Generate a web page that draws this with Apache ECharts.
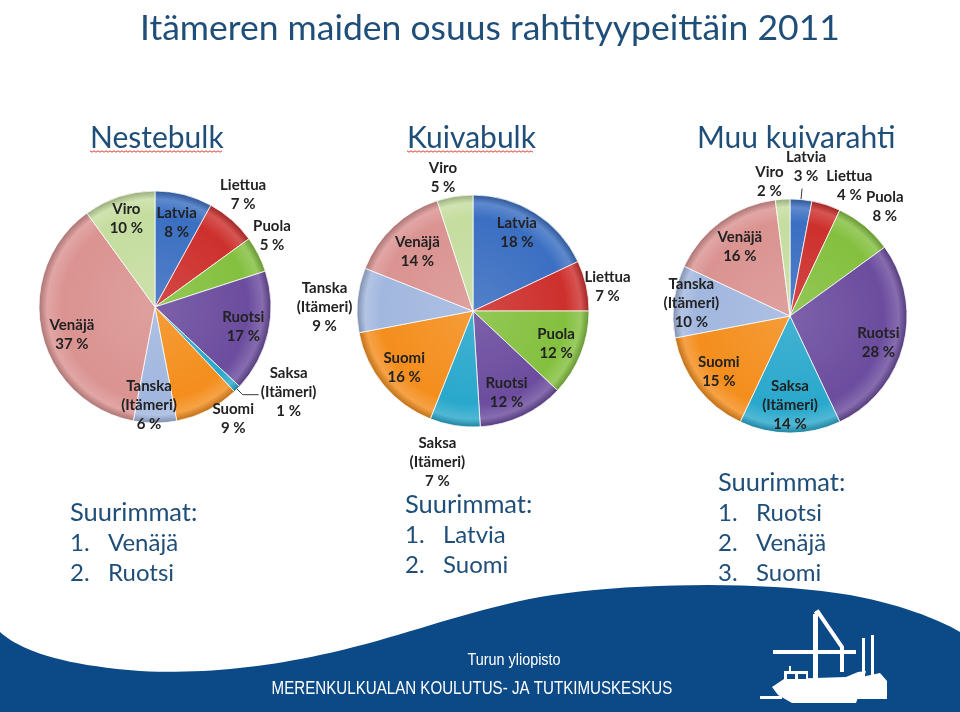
<!DOCTYPE html>
<html><head><meta charset="utf-8">
<script src="https://cdn.jsdelivr.net/npm/echarts@6/dist/echarts.min.js"></script>
<style>html,body{margin:0;padding:0;background:#fff}#c{width:960px;height:712px}</style>
</head><body><div id="c"></div>
<script>
// ---------- DATA ----------
const categories = ['Latvia','Liettua','Puola','Ruotsi','Saksa (Itämeri)','Suomi','Tanska (Itämeri)','Venäjä','Viro'];
const nestebulk = [8, 7, 5, 17, 1, 9, 6, 37, 10];
const kuivabulk = [18, 7, 12, 12, 7, 16, 9, 14, 5];
const muuKuivarahti = [3, 4, 8, 28, 14, 15, 10, 16, 2];
const mainTitle = 'Itämeren maiden osuus rahtityypeittäin 2011';
const chartTitles = ['Nestebulk', 'Kuivabulk', 'Muu kuivarahti'];
const listHeading = 'Suurimmat:';
const largestNestebulk = ['Venäjä', 'Ruotsi'];
const largestKuivabulk = ['Latvia', 'Suomi'];
const largestMuu = ['Ruotsi', 'Venäjä', 'Suomi'];
const footerTop = 'Turun yliopisto';
const footerBottom = 'MERENKULKUALAN KOULUTUS- JA TUTKIMUSKESKUS';

// ---------- STYLE / LAYOUT ----------
const sliceColors = ['#3b6fc2','#cd302d','#84c03f','#6b4c9e','#29a8cc','#f48e1d','#a2b7df','#da9391','#c5dd9f'];
const titleColor = '#1f4e79';
const labelFont = 'Lato, "Open Sans", sans-serif';
const datasets = [nestebulk, kuivabulk, muuKuivarahti];
const lists = [largestNestebulk, largestKuivabulk, largestMuu];
const pieLayout = [
  { center: [155, 307], r: 116,
    ring: {'Latvia':.75,'Liettua':1.24,'Puola':1.18,'Ruotsi':.78,'Saksa (Itämeri)':1.3,'Suomi':1.2,'Tanska (Itämeri)':.85,'Venäjä':.76,'Viro':.8},
    nudge: {'Liettua':[-7,-4],'Puola':[-5,-9],'Saksa (Itämeri)':[27,-21],'Suomi':[15,-12],'Tanska (Itämeri)':[-6,0],'Venäjä':[3,8]},
    leader: {'Saksa (Itämeri)':[8,16]} },
  { center: [473, 311], r: 116,
    ring: {'Latvia':.77,'Liettua':1.18,'Puola':.77,'Ruotsi':.76,'Saksa (Itämeri)':1.3,'Suomi':.77,'Tanska (Itämeri)':1.26,'Venäjä':.7,'Viro':1.16},
    nudge: {'Latvia':[-4,-3],'Liettua':[1,6],'Ruotsi':[-4,2],'Saksa (Itämeri)':[-12,2],'Tanska (Itämeri)':[-3,10],'Viro':[-9,0]},
    leader: {} },
  { center: [790, 316], r: 117,
    ring: {'Latvia':1.28,'Liettua':1.2,'Puola':1.23,'Ruotsi':.78,'Saksa (Itämeri)':.76,'Suomi':.77,'Tanska (Itämeri)':.85,'Venäjä':.73,'Viro':1.17},
    nudge: {'Latvia':[2,0],'Liettua':[16,3],'Puola':[3,2],'Ruotsi':[0,4],'Viro':[-12,2]},
    leader: {'Latvia':[11,0]} }
];
const titlePos = [[90,138],[407,138],[697,138]];
const listPos = [[70,513],[405,505],[718,483]];

function shade(hex, amt) {
  const n = parseInt(hex.slice(1), 16);
  let r = n >> 16, g = (n >> 8) & 255, b = n & 255;
  const f = c => Math.max(0, Math.min(255, Math.round(amt >= 0 ? c + (255 - c) * amt : c * (1 + amt))));
  return 'rgb(' + f(r) + ',' + f(g) + ',' + f(b) + ')';
}
function sliceFill(color, P) {
  return { type: 'radial', x: P.center[0], y: P.center[1], r: P.r, global: true,
    colorStops: [
      { offset: 0, color: shade(color, 0.12) },
      { offset: 0.8, color: color },
      { offset: 0.93, color: shade(color, 0.18) },
      { offset: 1, color: shade(color, -0.22) } ] };
}
const labelText = p => p.name.replace(' (', '\n(') + '\n' + p.value + ' %';

const series = [];
pieLayout.forEach((P, pi) => {
  const vals = datasets[pi];
  series.push({
    type: 'pie', center: P.center, radius: P.r, startAngle: 90, clockwise: true, silent: true,
    avoidLabelOverlap: false, animation: false,
    itemStyle: { borderColor: 'rgba(255,255,255,0.75)', borderWidth: 1 },
    label: { show: false }, labelLine: { show: false },
    data: categories.map((c, i) => {
      const item = { name: c, value: vals[i], itemStyle: { color: sliceFill(sliceColors[i], P) } };
      if (P.leader[c]) {
        item.label = { show: true, position: 'outside', formatter: ' ', fontSize: 4 };
        item.labelLine = { show: true, length: P.leader[c][0], length2: P.leader[c][1], smooth: false,
          lineStyle: { color: '#3a3a3a', width: 1 } };
      }
      return item;
    })
  });
  const factors = [...new Set(Object.values(P.ring))];
  factors.forEach(f => {
    series.push({
      type: 'pie', center: P.center, radius: 2 * (f * P.r - 3), startAngle: 90, clockwise: true,
      silent: true, animation: false, avoidLabelOverlap: false,
      itemStyle: { color: 'rgba(0,0,0,0)', borderWidth: 0 },
      labelLine: { show: false },
      label: { show: true, position: 'inside', formatter: labelText, color: '#222',
        fontFamily: labelFont, fontWeight: 'bold', fontSize: 15, lineHeight: 19 },
      labelLayout: params => {
        const n = P.nudge[categories[params.dataIndex]];
        return n ? { dx: n[0], dy: n[1] } : {};
      },
      data: categories.map((c, i) => ({ name: c, value: vals[i], label: { show: P.ring[c] === f } }))
    });
  });
});

// ---------- GRAPHICS ----------
function bezierPoints(start, segs) {
  const pts = [start];
  let p0 = start;
  segs.forEach(([c1, c2, p3]) => {
    for (let t = 0.05; t <= 1.0001; t += 0.05) {
      const u = 1 - t;
      pts.push([
        u*u*u*p0[0] + 3*u*u*t*c1[0] + 3*u*t*t*c2[0] + t*t*t*p3[0],
        u*u*u*p0[1] + 3*u*u*t*c1[1] + 3*u*t*t*c2[1] + t*t*t*p3[1]
      ]);
    }
    p0 = p3;
  });
  return pts;
}
const wave = bezierPoints([0, 632], [
  [[20,650],[60,665],[140,671]],
  [[200,674],[260,668],[320,655]],
  [[400,638],[460,612],[540,597]],
  [[620,583],[760,580],[850,595]],
  [[900,604],[940,620],[960,632]]
]).concat([[960,712],[0,712]]);

const graphic = [];
graphic.push({ type: 'polygon', silent: true, z: 0, shape: { points: wave }, style: { fill: '#0b4a87' } });
graphic.push({ type: 'text', silent: true, style: { text: mainTitle, x: 140, y: 29, fill: titleColor,
  font: '35.5px Lato, "Open Sans", sans-serif', verticalAlign: 'middle', align: 'left' } });
chartTitles.forEach((t, i) => {
  graphic.push({ type: 'text', silent: true, style: { text: t, x: titlePos[i][0], y: titlePos[i][1], fill: titleColor,
    font: '30px Lato, "Open Sans", sans-serif', verticalAlign: 'middle', align: 'left' } });
});
[[90, 222], [407, 533]].forEach(([x0, x1]) => {
  const pts = [];
  for (let x = x0, k = 0; x <= x1; x += 2, k++) pts.push([x, 151 + (k % 2 ? 1.2 : -0.2)]);
  graphic.push({ type: 'polyline', silent: true, shape: { points: pts }, style: { stroke: '#e0403a', lineWidth: 1, fill: null } });
});
lists.forEach((arr, i) => {
  const [x, y] = listPos[i];
  graphic.push({ type: 'text', silent: true, style: { text: listHeading, x: x, y: y, fill: titleColor,
    font: '25.5px Lato, "Open Sans", sans-serif', verticalAlign: 'middle' } });
  arr.forEach((name, j) => {
    graphic.push({ type: 'text', silent: true, style: { text: (j + 1) + '.', x: x, y: y + 30 * (j + 1), fill: titleColor,
      font: '24px Lato, "Open Sans", sans-serif', verticalAlign: 'middle' } });
    graphic.push({ type: 'text', silent: true, style: { text: name, x: x + 38, y: y + 30 * (j + 1), fill: titleColor,
      font: '24px Lato, "Open Sans", sans-serif', verticalAlign: 'middle' } });
  });
});
graphic.push({ type: 'text', silent: true, x: 514, y: 661, scaleX: 0.9, style: { text: footerTop, x: 0, y: 0, fill: '#fff',
  font: '16px "Liberation Sans", Arial, sans-serif', align: 'center', verticalAlign: 'middle' } });
graphic.push({ type: 'text', silent: true, x: 472, y: 689, scaleX: 0.84, style: { text: footerBottom, x: 0, y: 0, fill: '#fff',
  font: '18px "Liberation Sans", Arial, sans-serif', align: 'center', verticalAlign: 'middle' } });
const W = { fill: '#fff' };
graphic.push({ type: 'group', silent: true, children: [
  { type: 'rect', shape: { x: 760, y: 696, width: 22, height: 3 }, style: W },
  { type: 'polygon', shape: { points: [[772,687],[784,679],[846,677],[858,672],[866,671],[862,686],[856,703],[792,703],[778,695]] }, style: W },
  { type: 'rect', shape: { x: 784, y: 671, width: 24, height: 10 }, style: W },
  { type: 'rect', shape: { x: 787, y: 674, width: 8, height: 5 }, style: { fill: '#0b4a87' } },
  { type: 'rect', shape: { x: 798, y: 674, width: 8, height: 5 }, style: { fill: '#0b4a87' } },
  { type: 'rect', shape: { x: 789, y: 666, width: 2, height: 6 }, style: W },
  { type: 'rect', shape: { x: 813, y: 614, width: 5, height: 64 }, style: W },
  { type: 'polyline', shape: { points: [[815,614],[818,612],[842,647],[842,672]] }, style: { stroke: '#fff', lineWidth: 4, fill: null } },
  { type: 'rect', shape: { x: 773, y: 650, width: 83, height: 4 }, style: W },
  { type: 'rect', shape: { x: 862, y: 638, width: 3, height: 40 }, style: W },
  { type: 'rect', shape: { x: 871, y: 635, width: 3, height: 44 }, style: W },
  { type: 'polygon', shape: { points: [[858,680],[866,676],[880,673],[887,681],[887,699],[855,699]] }, style: W },
  { type: 'rect', shape: { x: 855, y: 696, width: 32, height: 3 }, style: W }
] });

const chart = echarts.init(document.getElementById('c'), null, { renderer: 'canvas' });
chart.setOption({ backgroundColor: '#ffffff', animation: false, series: series, graphic: graphic });
</script>
</body></html>
